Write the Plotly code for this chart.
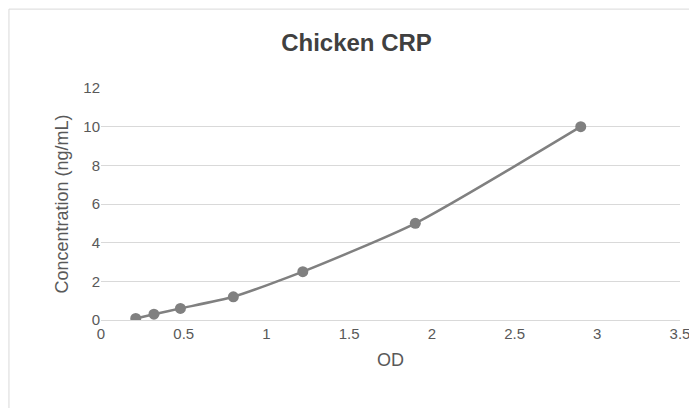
import plotly.graph_objects as go

od = [0.21, 0.32, 0.48, 0.80, 1.22, 1.90, 2.90]
conc = [0.08, 0.3, 0.6, 1.2, 2.5, 5.0, 10.0]

fig = go.Figure(go.Scatter(x=od, y=conc, mode="lines+markers",
    line=dict(color="#808080", width=2.5, shape="spline", smoothing=0.6),
    marker=dict(color="#808080", size=11)))
fig.update_layout(
    width=697, height=408, paper_bgcolor="white", plot_bgcolor="white",
    font=dict(family="Liberation Sans, Arial", color="#595959", size=15),
    title=dict(text="<b>Chicken CRP</b>", x=0.5, y=0.915, xanchor="center", yanchor="middle",
               automargin=False, font=dict(size=24, color="#404040")),
    margin=dict(l=93, r=25, t=80, b=96, autoexpand=False),
    showlegend=False,
    xaxis=dict(range=[0, 3.5], dtick=0.5, showgrid=False, zeroline=False, automargin=False,
               showline=True, linecolor="#d9d9d9", ticks="", title=dict(text="OD", standoff=12),
               tickfont=dict(size=15)),
    yaxis=dict(range=[0, 12], dtick=2, gridcolor="#d9d9d9", zeroline=False, automargin=False,
               showline=False, ticks="", title=dict(text="Concentration (ng/mL)", standoff=10),
               tickfont=dict(size=15)),
    shapes=[dict(type="rect", xref="paper", yref="paper", x0=-0.159, x1=1.041, y0=-0.409, y1=1.34,
                 line=dict(color="#d9d9d9", width=1))],
)
fig.write_html("out.html")
